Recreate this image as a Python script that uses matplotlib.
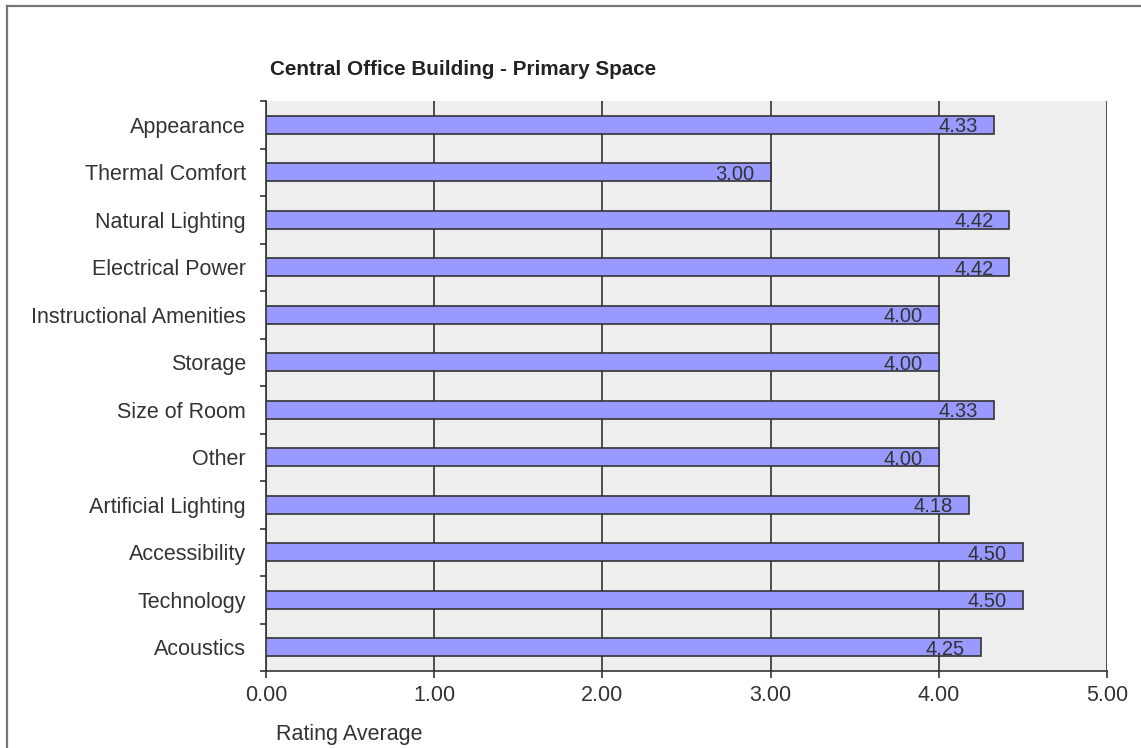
import matplotlib
matplotlib.use("Agg")
import matplotlib.pyplot as plt
from matplotlib.lines import Line2D
import numpy as np

# Ratings per space attribute (top to bottom)
categories = ["Appearance", "Thermal Comfort", "Natural Lighting", "Electrical Power",
              "Instructional Amenities", "Storage", "Size of Room", "Other",
              "Artificial Lighting", "Accessibility", "Technology", "Acoustics"]
ratings = [4.33, 3.00, 4.42, 4.42, 4.00, 4.00, 4.33, 4.00, 4.18, 4.50, 4.50, 4.25]
x_ticks = [0, 1, 2, 3, 4, 5]

txt = "#333333"
plt.rcParams['font.family'] = ['Liberation Sans', 'DejaVu Sans']

W, H = 1141, 748
fig = plt.figure(figsize=(W / 100, H / 100), dpi=100)
ax = fig.add_axes([266 / W, 77 / H, (1107 - 266) / W, 570 / H])
ax.set_facecolor("#eeeeee")

y = np.arange(len(categories))
ax.barh(y, ratings, height=0.38, color="#9999ff", edgecolor="#333333",
        linewidth=1.2, zorder=3)

for yi, v in zip(y, ratings):
    ax.annotate(f"{v:.2f}", xy=(v, yi), xytext=(-11.5, 0), textcoords="offset points",
                ha="right", va="center_baseline", fontsize=14.5, color=txt, zorder=4)

ax.set_xlim(0, 5)
ax.set_ylim(len(categories) - 0.5, -0.5)

# vertical grid lines
ax.set_xticks(x_ticks)
ax.set_xticklabels([f"{t:.2f}" for t in x_ticks])
ax.grid(axis="x", color="#333333", linewidth=1.2, zorder=1)
ax.grid(axis="y", visible=False)

ax.set_yticks(y)
ax.set_yticklabels(categories)
ax.set_yticks(np.arange(-0.5, len(categories)), minor=True)
ax.tick_params(axis="y", which="major", length=0, pad=14.4, labelsize=15.5, labelcolor=txt)
ax.tick_params(axis="y", which="minor", length=4, width=1.2, color="#333333", direction="out")
ax.tick_params(axis="x", length=4.8, width=1.2, color="#333333", pad=5, labelsize=15.5,
               labelcolor=txt)

for s in ["top", "right"]:
    ax.spines[s].set_visible(False)
for s in ["left", "bottom"]:
    ax.spines[s].set_color("#333333")
    ax.spines[s].set_linewidth(1.2)

fig.text(270 / W, 1 - 75 / H, "Central Office Building - Primary Space",
         fontsize=14.9, fontweight="bold", color="#222222", va="baseline", ha="left")
fig.text(276 / W, 8 / H, "Rating Average", fontsize=15.5, color=txt,
         va="baseline", ha="left")

# outer frame (left and top edges)
fig.add_artist(Line2D([7 / W, 7 / W], [0, 1 - 6 / H], color="#777777", linewidth=1.6,
                      transform=fig.transFigure))
fig.add_artist(Line2D([7 / W, 1], [1 - 6 / H, 1 - 6 / H], color="#777777", linewidth=1.6,
                      transform=fig.transFigure))

fig.savefig("out.png", dpi=100)
